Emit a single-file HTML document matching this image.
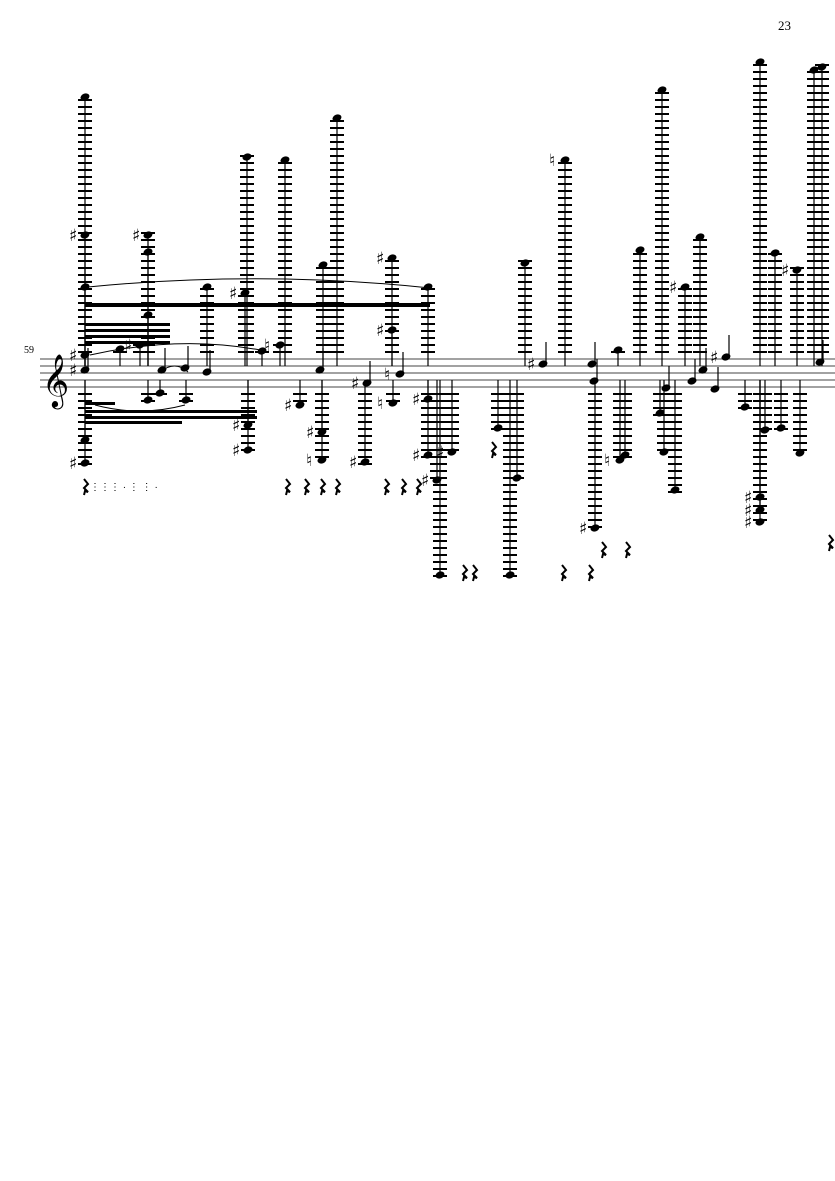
<!DOCTYPE html>
<html><head><meta charset="utf-8"><style>
html,body{margin:0;padding:0;background:#fff;}
svg{display:block;}
</style></head><body>
<svg id="s" width="835" height="1181" xmlns="http://www.w3.org/2000/svg">
<rect width="835" height="1181" fill="#fff"/>
<text x="778" y="30" font-family="Liberation Serif, serif" font-size="13">23</text>
<text x="24" y="353" font-family="Liberation Serif, serif" font-size="10">59</text>
<g stroke="#444" stroke-width="1">
<line x1="40" y1="359" x2="835" y2="359"/><line x1="40" y1="366" x2="835" y2="366"/>
<line x1="40" y1="373" x2="835" y2="373"/><line x1="40" y1="380" x2="835" y2="380"/>
<line x1="40" y1="387" x2="835" y2="387"/>
</g>
<text x="42" y="396" font-family="DejaVu Sans, sans-serif" font-size="46">𝄞</text>
<g fill="#000">
<rect x="85" y="303" width="345" height="4"/>
<rect x="85" y="323" width="85" height="3"/><rect x="85" y="329" width="85" height="3"/>
<rect x="85" y="335" width="85" height="3"/><rect x="85" y="341" width="85" height="3"/>
<rect x="85" y="402" width="30" height="3"/><rect x="85" y="410" width="97" height="3"/>
<rect x="85" y="416" width="97" height="3"/><rect x="85" y="421" width="97" height="3"/>
<rect x="180" y="410" width="77" height="3"/><rect x="180" y="416" width="77" height="3"/>
</g>
<g fill="none" stroke="#000" stroke-width="1">
<path d="M88 287 Q260 270 430 288"/>
<path d="M90 355 Q180 335 260 350"/>
<path d="M95 405 Q140 417 185 405"/>
<path d="M160 372 Q175 360 188 372"/>
</g>
<g id="g"></g>
</svg>
<script>
var g=document.getElementById('g'),NS='http://www.w3.org/2000/svg';
function el(t,a){var e=document.createElementNS(NS,t);for(var k in a)e.setAttribute(k,a[k]);g.appendChild(e);return e;}
function note(x,y,acc){
  if(y<356){for(var ly=352;ly>=y-2;ly-=7)el('rect',{x:x-7,y:ly-1,width:14,height:2,fill:'#000'});}
  if(y>390){for(var ly=394;ly<=y+2;ly+=7)el('rect',{x:x-7,y:ly-1,width:14,height:2,fill:'#000'});}
  if(y<356||y>390)el('line',{x1:x,y1:Math.min(y,380),x2:x,y2:Math.max(y,366),stroke:'#000','stroke-width':1.2});
  else el('line',{x1:x+3,y1:y,x2:x+3,y2:y-22,stroke:'#000','stroke-width':1.2});
  el('ellipse',{cx:x,cy:y,rx:4.6,ry:3.4,transform:'rotate(-20 '+x+' '+y+')',fill:'#000'});
  if(acc){var t=el('text',{x:x-16,y:y+6,'font-family':'DejaVu Sans, sans-serif','font-size':17});t.textContent=acc;}
}
var hi=[[85,97],[148,235,'♯'],[148,252],[207,287],[247,157],[245,293,'♯'],[285,160],[337,118],[323,265],[392,258,'♯'],[392,330,'♯'],[428,287],[525,263],[565,160,'♮'],[640,250],[662,90],[685,287,'♯'],[700,237],[760,62],[775,253],[797,270,'♯'],[814,70],[822,67],[85,235,'♯'],[85,287],[148,315]];
var lo=[[85,463,'♯'],[85,440],[248,450,'♯'],[248,425,'♯'],[300,405,'♯'],[322,460,'♮'],[322,432,'♯'],[365,462,'♯'],[393,403,'♮'],[428,455,'♯'],[428,399,'♯'],[437,480,'♯'],[440,575],[452,452,'♯'],[498,428],[510,575],[517,478],[595,528,'♯'],[620,460,'♮'],[625,455],[664,452],[660,413],[675,490],[745,407],[765,430],[760,522,'♯'],[760,510,'♯'],[760,497,'♯'],[781,428],[800,453],[148,400],[160,393],[186,400]];
var mid=[[85,355,'♯'],[85,370,'♯'],[120,349],[140,345,'♯'],[162,370],[185,368],[207,372],[262,351],[280,345,'♮'],[320,370],[367,383,'♯'],[400,374,'♮'],[543,364,'♯'],[592,364],[594,381],[618,350],[666,388],[692,381],[703,370],[715,389],[726,357,'♯'],[820,362]];
hi.concat(lo,mid).forEach(function(n){note(n[0],n[1],n[2]);});
function rest(x,y){el('path',{d:'M'+(x-1)+' '+(y-8)+' l4 5 l-4 4 l4 4 l-3 -1 l-1 4',fill:'none',stroke:'#000','stroke-width':2});}
[[85,487],[287,487],[306,487],[322,487],[337,487],[386,487],[403,487],[418,487],[493,450],[464,573],[474,573],[563,573],[590,573],[603,550],[627,550],[830,543]].forEach(function(r){rest(r[0],r[1]);});
var t=document.createElementNS(NS,'text');t.setAttribute('x',90);t.setAttribute('y',490);t.setAttribute('font-size',10);t.setAttribute('font-family','Liberation Sans, sans-serif');t.textContent='⋮⋮⋮    ·   ⋮   ⋮ ·';g.appendChild(t);
</script>
</body></html>
